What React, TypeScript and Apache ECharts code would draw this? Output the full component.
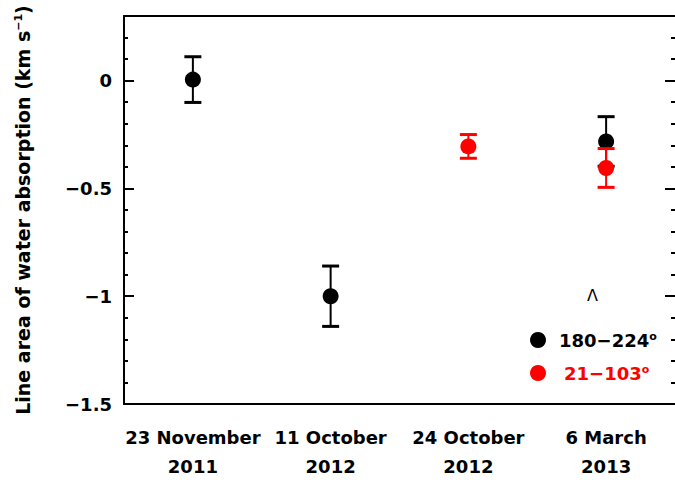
import React, { useEffect, useRef } from "react";
import * as echarts from "echarts";

const categoryPositions = [1, 2, 3, 4];
const categoryLabels = ["23 November\n2011", "11 October\n2012", "24 October\n2012", "6 March\n2013"];

const blackName = "180−224°";
const blackX = [1, 2, 4];
const blackY = [0.005, -1.0, -0.282];
const blackErr = [0.106, 0.14, 0.115];

const redName = "21−103°";
const redX = [3, 4];
const redY = [-0.305, -0.405];
const redErr = [0.055, 0.09];

const yMajorTicks = [-1.5, -1, -0.5, 0];
const yMinorTicks = [-1.4, -1.3, -1.2, -1.1, -0.9, -0.8, -0.7, -0.6, -0.4, -0.3, -0.2, -0.1, 0.1, 0.2];

const FONT = "DejaVu Sans";

function errorData(xs: number[], ys: number[], es: number[]) {
  return xs.map((x, i) => [x, ys[i], ys[i] - es[i], ys[i] + es[i]]);
}

function errorRenderer(color: string) {
  return (params: any, api: any) => {
    const x = api.value(0);
    const lo = api.value(2);
    const hi = api.value(3);
    const top = api.coord([x, hi]);
    const bot = api.coord([x, lo]);
    const hw = 8.5;
    return {
      type: "group",
      children: [
        { type: "line", shape: { x1: top[0], y1: top[1], x2: bot[0], y2: bot[1] }, style: { stroke: color, lineWidth: 2 } },
        { type: "line", shape: { x1: top[0] - hw, y1: top[1], x2: top[0] + hw, y2: top[1] }, style: { stroke: color, lineWidth: 3 } },
        { type: "line", shape: { x1: bot[0] - hw, y1: bot[1], x2: bot[0] + hw, y2: bot[1] }, style: { stroke: color, lineWidth: 3 } },
      ],
    };
  };
}

function yAxisDef(position: "left" | "right", ticks: number[], len: number, labels: boolean, line: boolean, name?: string) {
  return {
    type: "value",
    position,
    min: -1.5,
    max: 0.3,
    axisLine: { show: line, onZero: false, lineStyle: { color: "#000", width: 2 } },
    axisTick: { show: true, inside: true, length: len, customValues: ticks, lineStyle: { color: "#000", width: 2 } },
    axisLabel: labels
      ? {
          show: true,
          customValues: yMajorTicks,
          formatter: (v: number) => (v === 0 ? "0" : String(v).replace("-", "−")),
          color: "#000",
          fontFamily: FONT,
          fontWeight: "bold",
          fontSize: 18,
          margin: 12,
        }
      : { show: false },
    splitLine: { show: false },
    name: name || "",
    nameLocation: "middle",
    nameGap: 92,
    nameRotate: 90,
    nameTextStyle: {
      color: "#000",
      fontFamily: FONT,
      fontWeight: "bold",
      fontSize: 19,
      rich: {
        a: { color: "#000", fontFamily: FONT, fontWeight: "bold", fontSize: 19 },
        s: { color: "#000", fontFamily: FONT, fontWeight: "bold", fontSize: 11, verticalAlign: "top" },
      },
    },
  };
}

function legendDef(name: string, color: string, top: number, pad: number) {
  return {
    data: [{ name, textStyle: { color } }],
    left: 530,
    top,
    padding: 0,
    orient: "vertical",
    icon: "circle",
    itemWidth: 16,
    itemHeight: 16,
    selectedMode: false,
    formatter: (n: string) => "{t|" + n.replace("°", "") + "}{s|o}",
    textStyle: {
      color,
      fontFamily: FONT,
      fontWeight: "bold",
      fontSize: 18,
      padding: [0, 0, 0, pad],
      rich: {
        t: { color, fontFamily: FONT, fontWeight: "bold", fontSize: 18 },
        s: { color, fontFamily: FONT, fontWeight: "bold", fontSize: 11, verticalAlign: "top" },
      },
    },
  };
}

export default function App() {
  const ref = useRef<HTMLDivElement>(null);
  useEffect(() => {
    if (!ref.current) return;
    const chart = echarts.init(ref.current, null, { renderer: "svg" });
    chart.setOption({
      animation: false,
      backgroundColor: "#fff",
      grid: { left: 124, right: -2, top: 16, bottom: 81, containLabel: false },
      xAxis: [
        {
          type: "value",
          position: "bottom",
          min: 0.5,
          max: 4.5,
          axisLine: { show: true, onZero: false, lineStyle: { color: "#000", width: 2 } },
          axisTick: { show: false },
          splitLine: { show: false },
          axisLabel: {
            show: true,
            customValues: categoryPositions,
            formatter: (v: number) => categoryLabels[categoryPositions.indexOf(v)] || "",
            color: "#000",
            fontFamily: FONT,
            fontWeight: "bold",
            fontSize: 18,
            lineHeight: 29,
            margin: 19,
          },
        },
        {
          type: "value",
          position: "top",
          min: 0.5,
          max: 4.5,
          axisLine: { show: true, onZero: false, lineStyle: { color: "#000", width: 2 } },
          axisTick: { show: false },
          axisLabel: { show: false },
          splitLine: { show: false },
        },
      ],
      yAxis: [
        yAxisDef("left", yMajorTicks, 10, true, true, "{a|Line area of water absorption (km s}{s|−1}{a|)}"),
        yAxisDef("left", yMinorTicks, 4, false, false),
        yAxisDef("right", yMajorTicks, 10, false, false),
        yAxisDef("right", yMinorTicks, 4, false, false),
      ],
      legend: [legendDef(blackName, "#000", 331, 8), legendDef(redName, "#ff0000", 364, 13)],
      graphic: [
        {
          type: "text",
          left: 587,
          top: 287,
          style: { text: "Λ", fill: "#000", font: "16px 'DejaVu Sans'" },
        },
      ],
      series: [
        {
          type: "custom",
          name: "blackErr",
          renderItem: errorRenderer("#000"),
          data: errorData(blackX, blackY, blackErr),
          encode: { x: 0, y: [2, 3] },
          z: 2,
        },
        {
          type: "scatter",
          name: blackName,
          data: blackX.map((x, i) => [x, blackY[i]]),
          symbol: "circle",
          symbolSize: 16,
          itemStyle: { color: "#000", opacity: 1 },
          z: 3,
        },
        {
          type: "custom",
          name: "redErr",
          renderItem: errorRenderer("#ff0000"),
          data: errorData(redX, redY, redErr),
          encode: { x: 0, y: [2, 3] },
          z: 4,
        },
        {
          type: "scatter",
          name: redName,
          data: redX.map((x, i) => [x, redY[i]]),
          symbol: "circle",
          symbolSize: 16,
          itemStyle: { color: "#ff0000", opacity: 1 },
          z: 5,
        },
      ],
    });
    return () => chart.dispose();
  }, []);
  return <div ref={ref} style={{ width: 675, height: 485, position: "absolute", left: 0, top: 0 }} />;
}
